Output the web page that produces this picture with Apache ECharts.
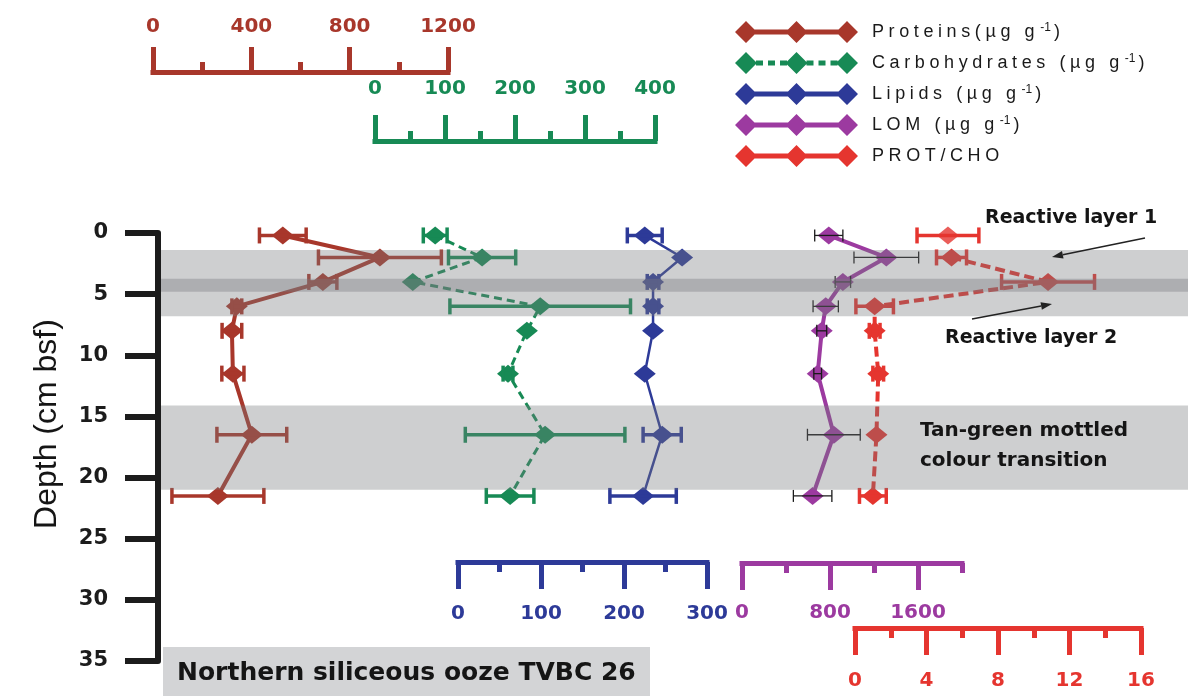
<!DOCTYPE html>
<html>
<head>
<meta charset="utf-8">
<script src="https://cdn.jsdelivr.net/npm/echarts@6/dist/echarts.min.js"></script>
<style>
  html, body { margin: 0; padding: 0; background: #ffffff; }
  #chart { width: 1188px; height: 696px; }
</style>
</head>
<body>
<div id="chart"></div>
<script>
// ---- Data: sediment depth profile, core TVBC 26 ----
// sample depths, cm below sea floor
const depths = [0.2, 2, 4, 6, 8, 11.5, 16.5, 21.5];

const proteins         = [528, 923, 691, 341, 321, 325, 402, 264];
const proteinsErr      = [95, 250, 57, 20, 40, 45, 142, 187];
const carbohydrates    = [86, 153, 54, 236, 217, 190, 243, 193];
const carbohydratesErr = [17, 48, 0, 129, 0, 7, 114, 34];
const lipids           = [225, 270, 235, 235, 235, 225, 246, 223];
const lipidsErr        = [21, 0, 7, 7, 0, 0, 23, 40];
const lom              = [789, 1312, 917, 761, 725, 688, 835, 642];
const lomErr           = [128, 294, 70, 115, 45, 35, 240, 175];
const protCho          = [5.2, 5.4, 10.8, 1.1, 1.1, 1.3, 1.2, 1.0];
const protChoErr       = [1.73, 0.84, 2.6, 1.05, 0.3, 0.3, 0, 0.75];

// depth intervals of the reactive layers / mottled transition
const bandRanges     = [[1.4, 6.8], [14.1, 21.0]];
const darkBandRanges = [[3.75, 4.8]];

// axis scales: [min, max, interval]
const depthScale   = [0, 35, 5];
const proteinScale = [0, 1200, 400];
const carbScale    = [0, 400, 100];
const lipidScale   = [0, 300, 100];
const lomScale     = [0, 2000, 400];
const lomMajor     = [0, 1600, 800];
const ratioScale   = [0, 16, 4];

const seriesNames = [
  'Proteins(µg g⁻¹)',
  'Carbohydrates (µg g⁻¹)',
  'Lipids (µg g⁻¹)',
  'LOM (µg g⁻¹)',
  'PROT/CHO'
];
// legend captions: [main text, superscript, closing text]
const legendCaptions = [
  ['Proteins(µg g', '-1', ')'],
  ['Carbohydrates (µg g', '-1', ')'],
  ['Lipids (µg g', '-1', ')'],
  ['LOM (µg g', '-1', ')'],
  ['PROT/CHO', '', '']
];

// ---- Styling ----
const COL = {
  prot: '#a8372b',
  carb: '#178a55',
  lip:  '#2d3a98',
  lom:  '#9c3aa0',
  ratio:'#e5352f',
  ink:  '#1c1c1c'
};
const BOLD = 'DejaVu Sans';

// widen the legend captions (tracking); canvas supports letterSpacing,
// applied both when measuring and when drawing so rich-text layout stays right
const TRACK = '4.6px';
const spaced = new Set();
legendCaptions.forEach(c => { spaced.add(c[0]); if (c[2]) spaced.add(c[2]); });
const proto = CanvasRenderingContext2D.prototype;
const nativeFillText = proto.fillText;
const nativeMeasureText = proto.measureText;
proto.fillText = function (text, x, y, maxWidth) {
  if (spaced.has(text)) {
    const prev = this.letterSpacing;
    this.letterSpacing = TRACK;
    nativeFillText.call(this, text, x, y);
    this.letterSpacing = prev || '0px';
    return;
  }
  return maxWidth === undefined
    ? nativeFillText.call(this, text, x, y)
    : nativeFillText.call(this, text, x, y, maxWidth);
};
proto.measureText = function (text) {
  if (spaced.has(text)) {
    const prev = this.letterSpacing;
    this.letterSpacing = TRACK;
    const m = nativeMeasureText.call(this, text);
    this.letterSpacing = prev || '0px';
    return m;
  }
  return nativeMeasureText.call(this, text);
};

// ---- Layout ----
const PLOT_TOP = 233, PLOT_H = 428;
function grid(left, width) {
  return { left: left, top: PLOT_TOP, width: width, height: PLOT_H, outerBoundsMode: 'none', containLabel: false };
}
const grids = [
  grid(158, 1030),   // 0 depth frame + bands
  grid(153, 295),    // 1 proteins
  grid(375, 280),    // 2 carbohydrates
  grid(458, 249),    // 3 lipids
  grid(742, 220),    // 4 LOM
  grid(742, 176),    // 5 LOM long ticks / labels
  grid(855, 286)     // 6 PROT/CHO
];

function depthAxis(i, show) {
  return {
    gridIndex: i, type: 'value', inverse: true,
    min: depthScale[0], max: depthScale[1], interval: depthScale[2],
    show: show,
    axisLine: { show: true, onZero: false, lineStyle: { color: COL.ink, width: 6 } },
    axisTick: { show: true, length: 33, lineStyle: { color: COL.ink, width: 6 } },
    axisLabel: { margin: 50, fontFamily: BOLD, fontWeight: 'bold', fontSize: 21, color: COL.ink },
    splitLine: { show: false }
  };
}

function valueAxis(i, scale, color, position, offset, opts) {
  opts = opts || {};
  return {
    gridIndex: i, type: 'value', position: position, offset: offset,
    min: scale[0], max: scale[1], interval: scale[2],
    axisLine: { show: opts.line !== false, onZero: false, lineStyle: { color: color, width: 5, cap: 'square' } },
    axisTick: { show: true, length: opts.tickLen || 26, lineStyle: { color: color, width: 5 } },
    minorTick: { show: !!opts.minor, splitNumber: 2, length: 10, lineStyle: { color: color, width: 5 } },
    axisLabel: {
      show: opts.labels !== false, margin: opts.margin, color: color,
      fontFamily: BOLD, fontWeight: 'bold', fontSize: 20,
      showMinLabel: true, showMaxLabel: true, hideOverlap: false,
      formatter: function (v) { return String(v); }
    },
    splitLine: { show: false }, minorSplitLine: { show: false }
  };
}

const xAxes = [
  { gridIndex: 0, type: 'value', min: 0, max: 1, show: false },
  valueAxis(1, proteinScale, COL.prot, 'top', 161, { minor: true, tickLen: 25, margin: 35 }),
  valueAxis(2, carbScale, COL.carb, 'top', 92, { minor: true, tickLen: 26, margin: 42 }),
  valueAxis(3, lipidScale, COL.lip, 'bottom', -99, { minor: true, tickLen: 27, margin: 42 }),
  valueAxis(4, lomScale, COL.lom, 'bottom', -98, { tickLen: 10, labels: false }),
  valueAxis(5, lomMajor, COL.lom, 'bottom', -98, { tickLen: 27, margin: 40, line: false }),
  valueAxis(6, ratioScale, COL.ratio, 'bottom', -33, { minor: true, tickLen: 27, margin: 43 })
];
const yAxes = grids.map((g, i) => depthAxis(i, i === 0));

// ---- Series helpers ----
function pairs(values) {
  return values.map((v, i) => [v, depths[i]]);
}
function triples(values, errs) {
  return values.map((v, i) => [v, depths[i], errs[i]]);
}
function axisOf(idx) {
  return idx + 1 + (idx >= 4 ? 1 : 0);
}

function lineSeries(idx, values, color, lineStyle, from) {
  return {
    name: seriesNames[idx], type: 'line', xAxisIndex: axisOf(idx), yAxisIndex: axisOf(idx),
    data: pairs(values).slice(from || 0),
    symbol: 'diamond', symbolSize: [22, 18], showAllSymbol: true,
    color: color, itemStyle: { color: color, borderWidth: 0 },
    lineStyle: Object.assign({ color: color }, lineStyle),
    clip: false, silent: true, animation: false, z: 2
  };
}

function errorSeries(idx, values, errs, color, width, capHalf) {
  return {
    type: 'custom', xAxisIndex: axisOf(idx), yAxisIndex: axisOf(idx),
    data: triples(values, errs),
    encode: { x: 0, y: 1 },
    clip: false, silent: true, animation: false, z: 3,
    renderItem: function (params, api) {
      const x = api.value(0), d = api.value(1), e = api.value(2);
      if (!(e > 0)) return null;
      const a = api.coord([x - e, d]);
      const b = api.coord([x + e, d]);
      const style = { stroke: color, lineWidth: width, fill: null };
      return {
        type: 'group',
        children: [
          { type: 'line', shape: { x1: a[0], y1: a[1], x2: b[0], y2: b[1] }, style: style },
          { type: 'line', shape: { x1: a[0], y1: a[1] - capHalf, x2: a[0], y2: a[1] + capHalf }, style: style },
          { type: 'line', shape: { x1: b[0], y1: b[1] - capHalf, x2: b[0], y2: b[1] + capHalf }, style: style }
        ]
      };
    }
  };
}

function bandSeries(ranges, fill) {
  return {
    type: 'custom', xAxisIndex: 0, yAxisIndex: 0,
    data: ranges,
    clip: false, silent: true, animation: false, z: 5,
    renderItem: function (params, api) {
      const cs = params.coordSys;
      const y0 = api.coord([0, api.value(0)])[1];
      const y1 = api.coord([0, api.value(1)])[1];
      return {
        type: 'rect',
        shape: { x: cs.x + 3, y: y0, width: cs.width - 3, height: y1 - y0 },
        style: { fill: fill }
      };
    }
  };
}

const series = [
  lineSeries(0, proteins, COL.prot, { width: 4 }),
  errorSeries(0, proteins, proteinsErr, COL.prot, 3.5, 8),
  lineSeries(1, carbohydrates, COL.carb, { width: 3, type: [8, 5] }),
  errorSeries(1, carbohydrates, carbohydratesErr, COL.carb, 3.5, 8),
  lineSeries(2, lipids, COL.lip, { width: 2.5 }),
  errorSeries(2, lipids, lipidsErr, COL.lip, 3.5, 8),
  lineSeries(3, lom, COL.lom, { width: 4 }),
  errorSeries(3, lom, lomErr, '#1a1a1a', 1.3, 6),
  // the surface PROT/CHO sample is not joined to the profile below it
  lineSeries(4, protCho, COL.ratio, { width: 4, type: [10, 5] }, 1),
  {
    type: 'scatter', xAxisIndex: axisOf(4), yAxisIndex: axisOf(4),
    data: pairs(protCho).slice(0, 1),
    symbol: 'diamond', symbolSize: [22, 18], color: COL.ratio,
    itemStyle: { color: COL.ratio }, silent: true, animation: false, z: 2, clip: false
  },
  errorSeries(4, protCho, protChoErr, COL.ratio, 3.5, 8),
  bandSeries(bandRanges, 'rgba(120,122,125,0.36)'),
  bandSeries(darkBandRanges, 'rgba(120,122,125,0.38)')
];

// ---- Legend icons: line with three diamonds ----
function diamond(cx) {
  return 'M' + (cx - 11) + ',11L' + cx + ',0L' + (cx + 11) + ',11L' + cx + ',22Z';
}
function bar(x0, x1) {
  return 'M' + x0 + ',8.5L' + x1 + ',8.5L' + x1 + ',13.5L' + x0 + ',13.5Z';
}
const solidIcon = 'path://' + diamond(11) + diamond(61.5) + diamond(112) + bar(11, 112);
const dashedIcon = 'path://' + diamond(11) + diamond(61.5) + diamond(112) +
  bar(21, 28) + bar(33, 40) + bar(45, 52) + bar(71.5, 78.5) + bar(83.5, 90.5) + bar(95.5, 102.5);

// ---- Annotations ----
function arrow(x1, y1, x2, y2) {
  const ang = Math.atan2(y2 - y1, x2 - x1);
  const L = 11, W = 3.8;
  const bx = x2 - L * Math.cos(ang), by = y2 - L * Math.sin(ang);
  const nx = -Math.sin(ang) * W, ny = Math.cos(ang) * W;
  return [
    { type: 'line', z: 100, silent: true,
      shape: { x1: x1, y1: y1, x2: bx, y2: by },
      style: { stroke: '#222', lineWidth: 1.6 } },
    { type: 'polygon', z: 100, silent: true,
      shape: { points: [[x2, y2], [bx + nx, by + ny], [bx - nx, by - ny]] },
      style: { fill: '#222' } }
  ];
}
function label(text, x, y, size) {
  return {
    type: 'text', x: x, y: y, z: 100, silent: true,
    style: {
      text: text, fill: '#151515', align: 'left', verticalAlign: 'middle',
      font: 'bold ' + size + 'px "' + BOLD + '"'
    }
  };
}

const graphic = [
  {
    type: 'text', x: 47, y: 424, rotation: Math.PI / 2, z: 100, silent: true,
    style: {
      text: 'Depth (cm bsf)', fill: '#151515', align: 'center', verticalAlign: 'middle',
      font: '32px "Liberation Sans"'
    }
  },
  label('Reactive layer 1', 985, 218, 19),
  label('Reactive layer 2', 945, 338, 19),
  label('Tan-green mottled', 920, 431, 20),
  label('colour transition', 920, 461, 20),
  {
    type: 'rect', z: 90, silent: true,
    shape: { x: 163, y: 647, width: 487, height: 49 },
    style: { fill: '#d3d4d6' }
  },
  label('Northern siliceous ooze TVBC 26', 177, 673, 25)
].concat(arrow(1145, 238, 1052, 257), arrow(972, 319, 1052, 304));

const chart = echarts.init(document.getElementById('chart'), null, { renderer: 'canvas' });
chart.setOption({
  animation: false,
  backgroundColor: '#ffffff',
  grid: grids,
  xAxis: xAxes,
  yAxis: yAxes,
  legend: {
    orient: 'vertical', left: 730, top: 16,
    itemWidth: 123, itemHeight: 22, itemGap: 9,
    selectedMode: false,
    formatter: function (name) {
      const c = legendCaptions[seriesNames.indexOf(name)];
      return '{t|' + c[0] + '}' + (c[1] ? '{s|' + c[1] + '}{t|' + c[2] + '}' : '');
    },
    textStyle: {
      fontFamily: 'Liberation Sans', fontSize: 18, color: '#1a1a1a', padding: [0, 0, 0, 9],
      rich: {
        t: { fontFamily: 'Liberation Sans', fontSize: 18, color: '#1a1a1a', lineHeight: 22 },
        s: { fontFamily: 'Liberation Sans', fontSize: 12, color: '#1a1a1a', lineHeight: 22,
             verticalAlign: 'top', padding: [1, 3, 0, 1] }
      }
    },
    data: seriesNames.map((n, i) => ({ name: n, icon: i === 1 ? dashedIcon : solidIcon }))
  },
  series: series,
  graphic: graphic
});
</script>
</body>
</html>
